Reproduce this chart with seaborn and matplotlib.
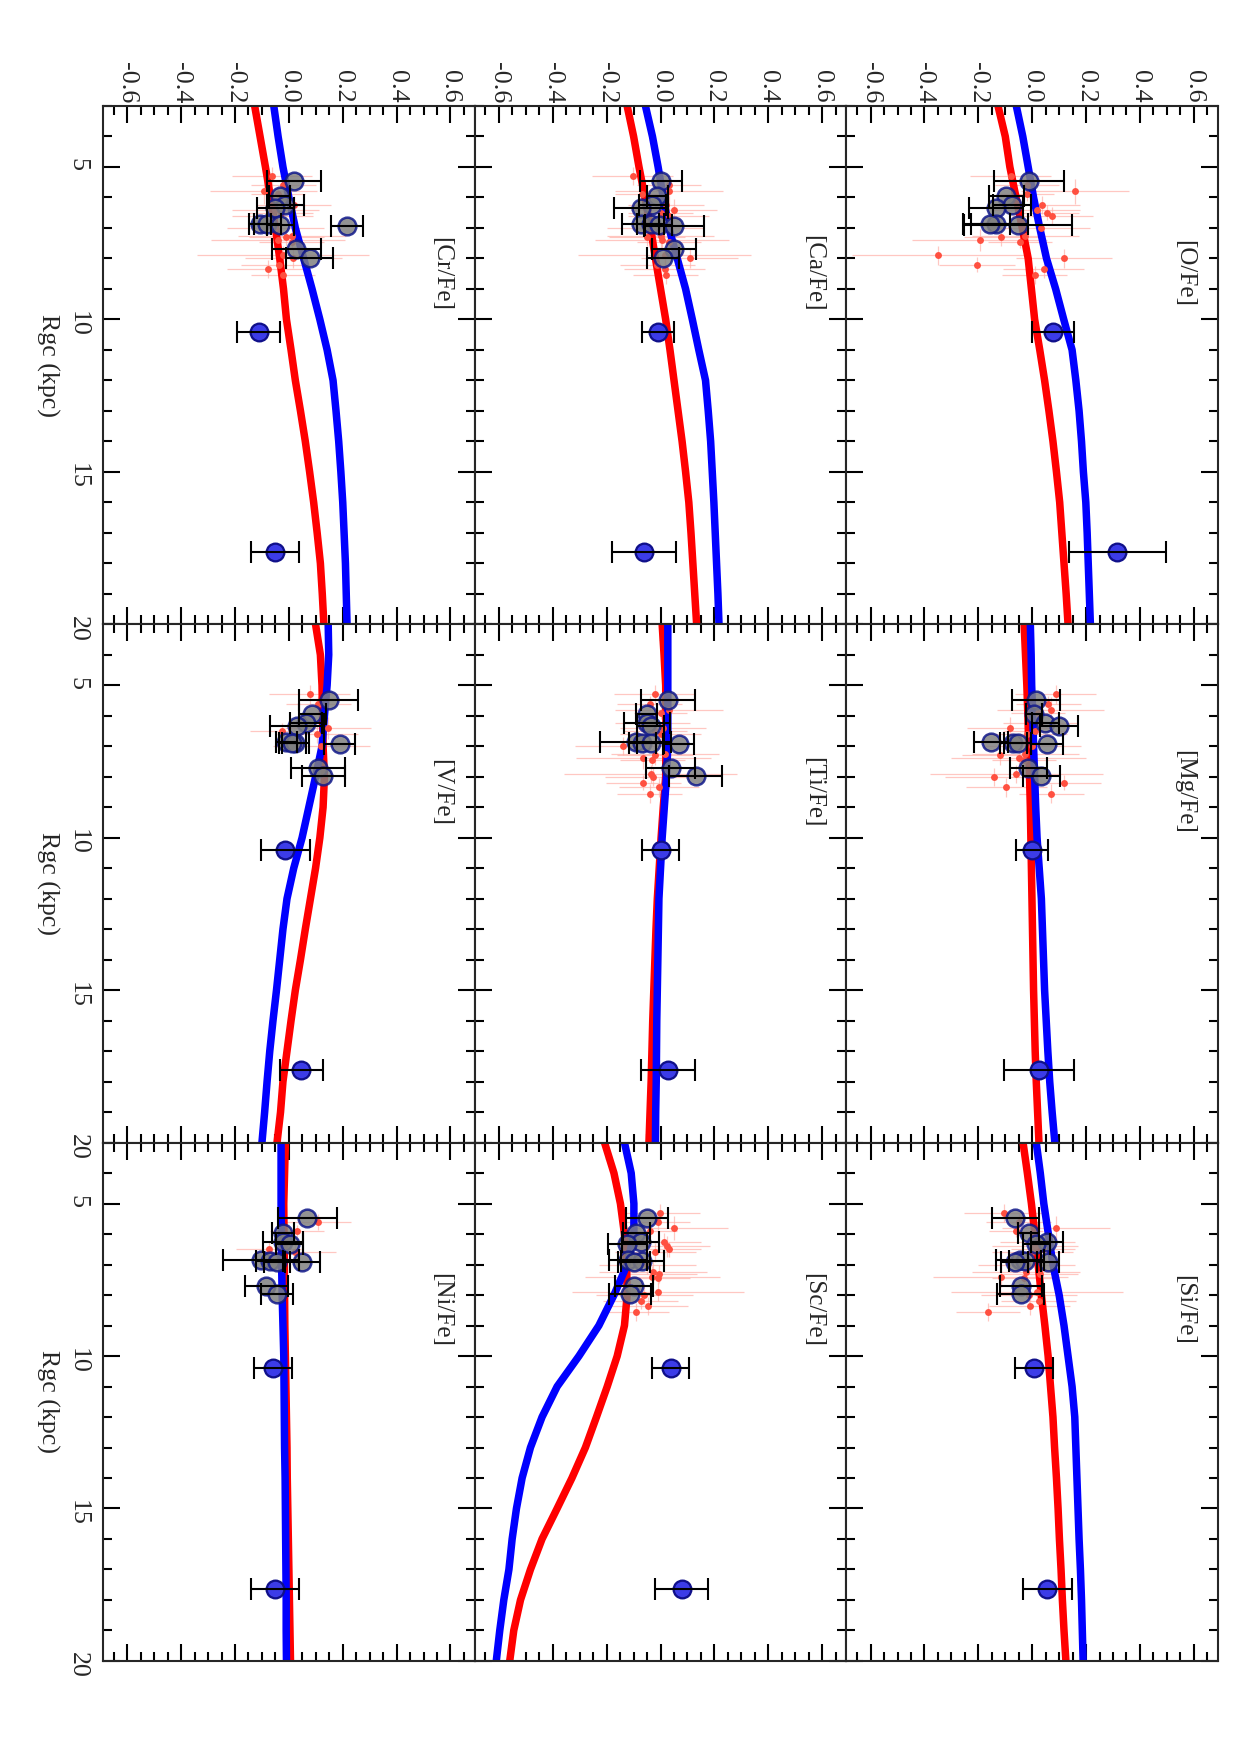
import numpy as np
import matplotlib
matplotlib.use("Agg")
import matplotlib.pyplot as plt
import seaborn as sns
from matplotlib.ticker import MultipleLocator, FormatStrFormatter

nan = np.nan

# chemical evolution models, sampled along Rgc (kpc)
model_rgc = [3, 4, 5, 6, 7, 8, 9, 10, 11, 12, 13, 14, 15, 16, 17, 18, 19, 20]

red_O = [-0.127, -0.100, -0.083, -0.060, -0.037, -0.015, -0.003, 0.009, 0.028, 0.046, 0.062, 0.077, 0.090, 0.102, 0.110, 0.118, 0.126, 0.133]
blue_O = [-0.059, -0.035, -0.015, 0.005, 0.028, 0.053, 0.087, 0.117, 0.148, 0.162, 0.174, 0.183, 0.190, 0.199, 0.204, 0.208, 0.212, 0.216]
red_Mg = [-0.030, -0.025, -0.020, -0.016, -0.013, -0.010, -0.007, -0.005, -0.003, -0.001, 0.001, 0.003, 0.005, 0.008, 0.011, 0.015, 0.020, 0.025]
blue_Mg = [-0.007, -0.004, -0.002, 0.002, 0.005, 0.009, 0.013, 0.018, 0.026, 0.034, 0.038, 0.042, 0.046, 0.052, 0.058, 0.065, 0.074, 0.084]
red_Si = [-0.034, -0.018, -0.003, 0.010, 0.022, 0.034, 0.047, 0.059, 0.068, 0.077, 0.083, 0.090, 0.096, 0.101, 0.107, 0.112, 0.118, 0.125]
blue_Si = [0.015, 0.030, 0.043, 0.060, 0.077, 0.100, 0.118, 0.133, 0.148, 0.158, 0.162, 0.166, 0.170, 0.174, 0.179, 0.183, 0.186, 0.189]
red_Ca = [-0.124, -0.100, -0.080, -0.058, -0.037, -0.019, 0.000, 0.019, 0.035, 0.050, 0.065, 0.080, 0.093, 0.105, 0.113, 0.120, 0.127, 0.134]
blue_Ca = [-0.056, -0.030, -0.009, 0.010, 0.031, 0.062, 0.093, 0.118, 0.142, 0.167, 0.177, 0.186, 0.192, 0.198, 0.203, 0.208, 0.213, 0.217]
red_Ti = [0.006, 0.013, 0.019, 0.020, 0.020, 0.019, 0.010, 0.002, -0.005, -0.012, -0.017, -0.021, -0.025, -0.029, -0.032, -0.035, -0.039, -0.043]
blue_Ti = [0.027, 0.027, 0.027, 0.027, 0.027, 0.022, 0.014, 0.006, 0.000, -0.006, -0.008, -0.010, -0.012, -0.014, -0.015, -0.016, -0.018, -0.019]
red_Sc = [-0.208, -0.173, -0.149, -0.134, -0.126, -0.124, -0.134, -0.161, -0.198, -0.238, -0.279, -0.329, -0.384, -0.440, -0.483, -0.520, -0.545, -0.560]
blue_Sc = [-0.134, -0.109, -0.099, -0.099, -0.124, -0.173, -0.229, -0.303, -0.384, -0.440, -0.483, -0.514, -0.535, -0.551, -0.563, -0.582, -0.597, -0.610]
red_Cr = [-0.127, -0.107, -0.087, -0.068, -0.050, -0.034, -0.020, -0.009, 0.008, 0.024, 0.043, 0.061, 0.077, 0.092, 0.105, 0.117, 0.124, 0.130]
blue_Cr = [-0.056, -0.040, -0.022, 0.000, 0.024, 0.055, 0.086, 0.115, 0.142, 0.164, 0.175, 0.185, 0.193, 0.200, 0.205, 0.210, 0.213, 0.216]
red_V = [0.099, 0.117, 0.123, 0.125, 0.127, 0.132, 0.127, 0.115, 0.099, 0.080, 0.061, 0.043, 0.024, 0.008, -0.007, -0.022, -0.031, -0.044]
blue_V = [0.146, 0.148, 0.142, 0.132, 0.123, 0.099, 0.074, 0.049, 0.018, -0.007, -0.022, -0.034, -0.046, -0.059, -0.071, -0.081, -0.090, -0.100]
red_Ni = [-0.013, -0.016, -0.019, -0.018, -0.017, -0.016, -0.015, -0.013, -0.011, -0.009, -0.007, -0.006, -0.004, -0.002, 0.000, 0.002, 0.004, 0.006]
blue_Ni = [-0.029, -0.029, -0.029, -0.028, -0.027, -0.025, -0.022, -0.019, -0.018, -0.017, -0.016, -0.014, -0.013, -0.012, -0.011, -0.010, -0.010, -0.009]

# inner-disc clusters (grey symbols)
gc_rgc = [5.47, 5.95, 6.25, 6.33, 6.86, 6.88, 6.90, 6.93, 7.70, 7.98]
gc_O = [-0.013, -0.096, -0.074, -0.136, -0.136, -0.156, -0.053, nan, nan, nan]
err_O = [0.13, 0.065, 0.07, 0.10, 0.12, 0.073, 0.20, nan, nan, nan]
gc_Mg = [0.015, 0.006, 0.049, 0.099, -0.154, -0.071, -0.053, 0.055, -0.014, 0.034]
err_Mg = [0.089, 0.03, 0.05, 0.07, 0.063, 0.05, 0.05, 0.06, 0.07, 0.068]
gc_Si = [-0.063, -0.013, 0.055, 0.015, -0.046, -0.028, -0.065, 0.059, -0.043, -0.043]
err_Si = [0.088, 0.04, 0.06, 0.05, 0.09, 0.06, 0.05, 0.04, 0.078, 0.088]
gc_Ca = [0.0, -0.012, -0.031, -0.074, -0.074, -0.037, -0.006, 0.05, 0.05, 0.009]
err_Ca = [0.078, 0.04, 0.05, 0.1, 0.07, 0.05, 0.05, 0.11, 0.08, 0.06]
gc_Ti = [0.029, -0.052, -0.05, -0.037, -0.093, -0.068, -0.037, 0.068, 0.037, 0.13]
err_Ti = [0.1, 0.04, 0.085, 0.05, 0.133, 0.05, 0.05, 0.058, 0.09, 0.1]
gc_Sc = [-0.05, -0.09, -0.074, -0.124, -0.121, -0.068, -0.099, nan, -0.099, -0.112]
err_Sc = [0.079, 0.05, 0.068, 0.072, 0.07, 0.08, 0.06, nan, 0.07, 0.078]
gc_Cr = [0.018, -0.034, -0.013, -0.05, -0.108, -0.081, -0.032, 0.216, 0.028, 0.078]
err_Cr = [0.1, 0.04, 0.07, 0.07, 0.04, 0.05, 0.05, 0.06, 0.09, 0.087]
gc_V = [0.148, 0.086, 0.064, 0.03, -0.009, 0.024, 0.012, 0.188, 0.107, 0.127]
err_V = [0.11, 0.05, 0.06, 0.1, 0.04, 0.05, 0.05, 0.058, 0.1, 0.08]
gc_Ni = [0.068, -0.022, -0.022, 0.003, -0.104, -0.071, -0.044, 0.049, -0.084, -0.044]
err_Ni = [0.11, 0.04, 0.074, 0.05, 0.14, 0.05, 0.05, 0.065, 0.079, 0.06]

# outer clusters (blue symbols)
far_rgc = [10.40, 17.63]
far_O, ferr_O = [0.077, 0.316], [0.079, 0.18]
far_Mg, ferr_Mg = [-0.002, 0.025], [0.06, 0.13]
far_Si, ferr_Si = [0.007, 0.056], [0.07, 0.09]
far_Ca, ferr_Ca = [-0.010, -0.062], [0.06, 0.12]
far_Ti, ferr_Ti = [0.000, 0.029], [0.07, 0.10]
far_Sc, ferr_Sc = [0.037, 0.078], [0.07, 0.10]
far_Cr, ferr_Cr = [-0.112, -0.052], [0.08, 0.09]
far_V, ferr_V = [-0.013, 0.046], [0.09, 0.08]
far_Ni, ferr_Ni = [-0.059, -0.052], [0.07, 0.09]

# individual stars (small red dots)
star_rgc = [5.30, 5.60, 5.80, 5.90, 6.25, 6.40, 6.50, 6.60, 7.00, 7.25, 7.30, 7.40, 7.45, 7.90, 8.00, 8.20, 8.35, 8.55]
star_err = [0.15, 0.12, 0.20, 0.10, 0.14, 0.16, 0.12, 0.15, 0.18, 0.20, 0.14, 0.25, 0.12, 0.32, 0.18, 0.14, 0.15, 0.12]
star_rerr = [0.3, 0.25, 0.4, 0.2, 0.3, 0.35, 0.25, 0.3, 0.3, 0.4, 0.3, 0.35, 0.2, 0.3, 0.3, 0.25, 0.3, 0.3]
star_O = [-0.08, -0.02, 0.158, -0.02, 0.037, 0.016, 0.055, 0.075, 0.034, -0.025, -0.115, -0.195, -0.046, -0.348, 0.118, -0.205, 0.043, 0.009]
star_Mg = [0.087, 0.06, 0.068, 0.02, 0.03, -0.084, 0.01, -0.02, 0.0, -0.025, -0.121, -0.05, -0.03, -0.059, -0.142, 0.117, -0.096, 0.071]
star_Si = [-0.105, -0.05, 0.087, -0.059, 0.02, 0.01, 0.04, 0.0, -0.02, -0.022, 0.03, -0.117, -0.03, 0.018, -0.012, 0.024, -0.009, -0.164]
star_Ca = [-0.103, 0.031, 0.031, -0.068, 0.02, 0.05, 0.0, 0.03, -0.02, 0.0, -0.05, 0.006, 0.031, 0.015, 0.108, -0.012, 0.015, 0.019]
star_Ti = [-0.022, -0.04, 0.031, 0.0, -0.03, 0.01, -0.02, 0.0, -0.139, 0.016, -0.02, -0.064, -0.031, -0.037, -0.027, -0.064, -0.006, -0.04]
star_Sc = [-0.002, -0.01, 0.05, -0.04, 0.012, 0.025, 0.03, -0.02, -0.05, -0.027, -0.006, -0.03, -0.01, -0.01, -0.06, -0.074, -0.047, -0.09]
star_Cr = [-0.063, -0.02, -0.094, -0.04, 0.018, -0.05, -0.03, -0.06, -0.05, 0.012, -0.009, -0.04, 0.01, -0.022, 0.016, -0.038, -0.078, -0.022]
star_V = [0.077, 0.109, nan, nan, nan, 0.144, -0.025, 0.105, 0.12, nan, nan, nan, nan, nan, nan, nan, nan, nan]
star_Ni = [nan, 0.109, nan, 0.03, nan, nan, -0.075, 0.024, nan, nan, nan, nan, nan, nan, nan, nan, nan, nan]

# page layout: the landscape figure is turned a quarter turn clockwise
panels = [["Cr", "Ca", "O"],
          ["V", "Ti", "Mg"],
          ["Ni", "Sc", "Si"]]

table = {
    "O": (red_O, blue_O, gc_O, err_O, far_O, ferr_O, star_O),
    "Mg": (red_Mg, blue_Mg, gc_Mg, err_Mg, far_Mg, ferr_Mg, star_Mg),
    "Si": (red_Si, blue_Si, gc_Si, err_Si, far_Si, ferr_Si, star_Si),
    "Ca": (red_Ca, blue_Ca, gc_Ca, err_Ca, far_Ca, ferr_Ca, star_Ca),
    "Ti": (red_Ti, blue_Ti, gc_Ti, err_Ti, far_Ti, ferr_Ti, star_Ti),
    "Sc": (red_Sc, blue_Sc, gc_Sc, err_Sc, far_Sc, ferr_Sc, star_Sc),
    "Cr": (red_Cr, blue_Cr, gc_Cr, err_Cr, far_Cr, ferr_Cr, star_Cr),
    "V": (red_V, blue_V, gc_V, err_V, far_V, ferr_V, star_V),
    "Ni": (red_Ni, blue_Ni, gc_Ni, err_Ni, far_Ni, ferr_Ni, star_Ni),
}


def draw_panel(ax, name):
    red, blue, gc, gc_err, far, far_err, stars = table[name]
    ax.errorbar(stars, star_rgc, xerr=star_err, yerr=star_rerr, fmt="none",
                ecolor="#ffb0a8", elinewidth=0.6, alpha=0.7, zorder=1)
    sns.lineplot(x=red, y=model_rgc, orient="y", estimator=None, color="#ff0000",
                 linewidth=3.6, ax=ax, zorder=2)
    sns.lineplot(x=blue, y=model_rgc, orient="y", estimator=None, color="#0000ff",
                 linewidth=3.6, ax=ax, zorder=2.1)
    sns.scatterplot(x=stars, y=star_rgc, color="#ff5040", s=11, linewidth=0,
                    ax=ax, zorder=3)
    sns.scatterplot(x=gc, y=gc_rgc, color="#808080", edgecolor="#10188a", s=72,
                    linewidth=1.2, alpha=0.85, ax=ax, zorder=4)
    ax.errorbar(gc, gc_rgc, xerr=gc_err, fmt="none", ecolor="black",
                elinewidth=1.0, capsize=5.5, capthick=1.0, zorder=5)
    sns.scatterplot(x=far, y=far_rgc, color="#3c3ce8", edgecolor="#10108a", s=72,
                    linewidth=1.1, ax=ax, zorder=4)
    ax.errorbar(far, far_rgc, xerr=far_err, fmt="none", ecolor="black",
                elinewidth=1.0, capsize=5.5, capthick=1.0, zorder=5)
    ax.text(0.565, 8.5, "[{}/Fe]".format(name), rotation=-90, ha="center",
            va="center", fontsize=12)


sns.set_style("ticks")
plt.rcParams["font.family"] = ["Liberation Serif", "DejaVu Serif"]
plt.rcParams["axes.linewidth"] = 1.0

fig, axes = plt.subplots(3, 3, figsize=(1240 / 150, 1755 / 150), dpi=150)
fig.subplots_adjust(left=0.0831, right=0.9823, top=0.9396, bottom=0.0536,
                    wspace=0, hspace=0)

for i in range(3):
    for j in range(3):
        ax = axes[i][j]
        draw_panel(ax, panels[i][j])
        ax.set_xlim(-0.69, 0.69)
        ax.set_ylim(20, 3)
        ax.xaxis.set_major_locator(MultipleLocator(0.2))
        ax.xaxis.set_minor_locator(MultipleLocator(0.05))
        ax.xaxis.set_major_formatter(FormatStrFormatter("%.1f"))
        ax.yaxis.set_major_locator(MultipleLocator(5))
        ax.yaxis.set_minor_locator(MultipleLocator(1))
        ax.tick_params(which="both", direction="in", top=True, bottom=True,
                       left=True, right=True, width=1.0, color="black")
        ax.tick_params(which="major", length=8.3)
        ax.tick_params(which="minor", length=4.2)
        ax.tick_params(axis="x", labelbottom=False, labeltop=(i == 0),
                       labelrotation=-90, labelsize=12.5, pad=1.5)
        ax.tick_params(axis="y", labelleft=(j == 0), labelrotation=-90,
                       labelsize=12.5, pad=7)
        ax.set_xlabel("")
        if j == 0:
            ax.set_ylabel("Rgc (kpc)", rotation=-90, ha="center", va="center",
                          fontsize=12.5)
            ax.yaxis.set_label_coords(-0.148, 0.5)
        else:
            ax.set_ylabel("")

fig.savefig("out.png", dpi=150)
plt.close(fig)
